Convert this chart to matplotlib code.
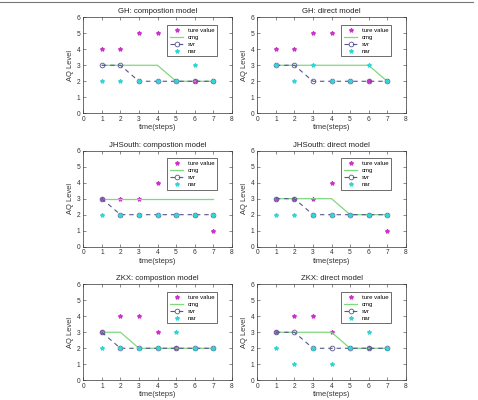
#!/usr/bin/env python3
"""
AQ level forecasts vs true value, three stations x two models.
"""
import numpy as np
import matplotlib
matplotlib.use("Agg")
import matplotlib.pyplot as plt
from matplotlib.lines import Line2D

plt.rcParams["font.family"] = ["Liberation Sans", "DejaVu Sans"]

steps = [1, 2, 3, 4, 5, 6, 7]

titles = ["GH: compostion model", "GH: direct model",
          "JHSouth: compostion model", "JHSouth: direct model",
          "ZKX: compostion model", "ZKX: direct model"]

true_vals = [
    [4, 4, 5, 5, 2, 2, 2],
    [4, 4, 5, 5, 2, 2, 2],
    [3, 3, 3, 4, 4, 2, 1],
    [3, 3, 3, 4, 4, 2, 1],
    [3, 4, 4, 3, 2, 2, 2],
    [3, 4, 4, 3, 2, 2, 2],
]
cmg_vals = [
    [3, 3, 3, 3, 2, 2, 2],
    [3, 3, 3, 3, 3, 3, 2],
    [3, 3, 3, 3, 3, 3, 3],
    [3, 3, 3, 3, 2, 2, 2],
    [3, 3, 2, 2, 2, 2, 2],
    [3, 3, 3, 3, 2, 2, 2],
]
svr_vals = [
    [3, 3, 2, 2, 2, 2, 2],
    [3, 3, 2, 2, 2, 2, 2],
    [3, 2, 2, 2, 2, 2, 2],
    [3, 3, 2, 2, 2, 2, 2],
    [3, 2, 2, 2, 2, 2, 2],
    [3, 3, 2, 2, 2, 2, 2],
]
nar_vals = [
    [2, 2, 2, 2, 2, 3, 2],
    [3, 2, 3, 2, 2, 3, 2],
    [2, 2, 2, 2, 2, 2, 2],
    [2, 2, 2, 2, 2, 2, 2],
    [2, 2, 2, 2, 3, 2, 2],
    [2, 1, 2, 1, 2, 3, 2],
]

C_TRUE = "#cc33cc"
C_CMG = "#80d880"
C_SVR = "#55558f"
C_NAR = "#33d6d6"

fig = plt.figure(figsize=(4.78, 4.0), dpi=100)

lefts = [0.1743, 0.5383]
bottoms = [0.7168, 0.3833, 0.0493]

for i in range(6):
    r, c = divmod(i, 2)
    ax = fig.add_axes([lefts[c], bottoms[r], 0.3105, 0.24])
    ax.plot(steps, true_vals[i], "*", color=C_TRUE, ms=3.0, mew=0.9, label="ture value")
    ax.plot(steps, cmg_vals[i], "-", color=C_CMG, lw=0.9, label="cmg")
    ax.plot(steps, svr_vals[i], "--o", color=C_SVR, lw=0.8, ms=3.4, mew=0.6,
            mfc="none", dashes=(4, 3.5), label="svr")
    ax.plot(steps, nar_vals[i], "*", color=C_NAR, ms=3.0, mew=0.9, label="nar")

    ax.set_xlim(0, 8)
    ax.set_ylim(0, 6)
    ax.set_xticks(range(0, 9))
    ax.set_yticks(range(0, 7))
    ax.tick_params(direction="in", length=2, width=0.4, labelsize=4.8,
                   colors="#333333", top=True, right=True, pad=2)
    for s in ax.spines.values():
        s.set_linewidth(0.5)
        s.set_color("#333333")
    ax.set_title(titles[i], fontsize=5.6, pad=3, color="#222222")
    ax.set_xlabel("time(steps)", fontsize=5.4, labelpad=1, color="#333333")
    ax.set_ylabel("AQ Level", fontsize=5.4, labelpad=2, color="#333333")
    leg = ax.legend(loc="upper right", bbox_to_anchor=(0.9, 0.92),
                    borderaxespad=0, fontsize=4.3, handlelength=2.3,
                    handletextpad=0.7, labelspacing=0.3, borderpad=0.45,
                    fancybox=False, framealpha=1)
    leg.get_frame().set_edgecolor("#333333")
    leg.get_frame().set_linewidth(0.5)

# thin frame line across the top of the figure
fig.add_artist(Line2D([0.0, 0.99], [0.995, 0.995], transform=fig.transFigure,
                      color="#777777", lw=0.8))

fig.savefig("out.png", dpi=100)
